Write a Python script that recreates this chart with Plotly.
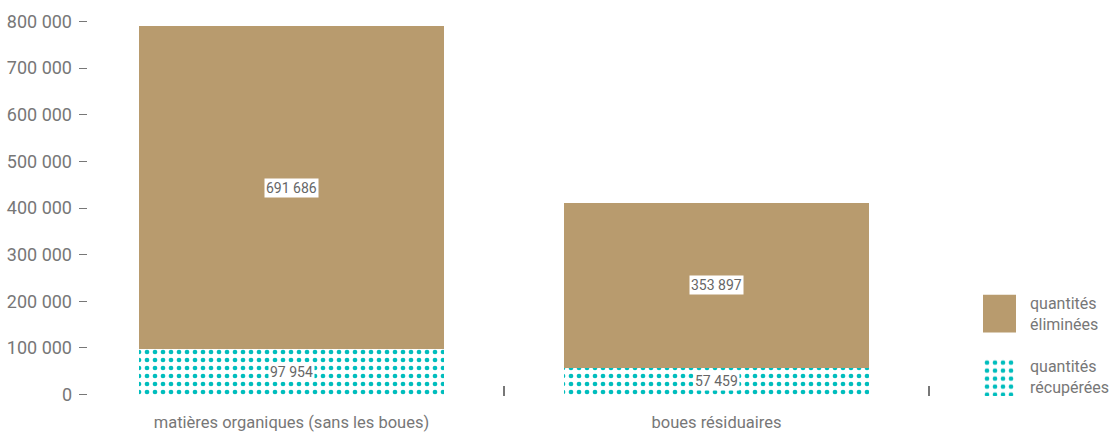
import plotly.graph_objects as go

categories = ["matières organiques (sans les boues)", "boues résiduaires"]
recuperees = [97954, 57459]
eliminees = [691686, 353897]
series_names = ["quantités<br>récupérées", "quantités<br>éliminées"]
y_ticks = [0, 100000, 200000, 300000, 400000, 500000, 600000, 700000, 800000]

BROWN = "#B89B6E"
TEAL = "#00BDBD"
GREY = "#777777"
FONT = "Roboto"

def fmt(v):
    return f"{v:,}".replace(",", " ")

xpos = list(range(len(categories)))
boundaries = [i + 0.5 for i in xpos]

PAT = dict(shape=".", fgcolor=TEAL, bgcolor="white", size=8, solidity=0.27,
           fgopacity=1, fillmode="replace")

fig = go.Figure()
fig.add_trace(go.Bar(
    x=xpos, y=recuperees, name=series_names[0], showlegend=False,
    marker=dict(color=TEAL, line=dict(width=0), pattern=PAT),
))
fig.add_trace(go.Bar(
    x=xpos, y=eliminees, name=series_names[1], showlegend=False,
    marker=dict(color=BROWN, line=dict(width=0)),
))

# value labels with white boxes
for c, r, e in zip(xpos, recuperees, eliminees):
    fig.add_annotation(x=c, y=r / 2, text=fmt(r), showarrow=False,
                       bgcolor="white", borderpad=1,
                       font=dict(family=FONT, size=14, color="#666666"))
    fig.add_annotation(x=c, y=r + e / 2, text=fmt(e), showarrow=False,
                       bgcolor="white", borderpad=1,
                       font=dict(family=FONT, size=14, color="#666666"))

# custom legend swatches (large squares)
fig.add_trace(go.Scatter(
    x=[0, 33, 33, 0, 0], y=[0, 0, 38, 38, 0], xaxis="x2", yaxis="y2",
    mode="lines", fill="toself", line=dict(width=0), fillcolor=TEAL,
    fillpattern=PAT, showlegend=False, hoverinfo="skip",
))
fig.add_trace(go.Scatter(
    x=[0, 33, 33, 0, 0], y=[64, 64, 102, 102, 64], xaxis="x2", yaxis="y2",
    mode="lines", fill="toself", line=dict(width=0), fillcolor=BROWN,
    showlegend=False, hoverinfo="skip",
))
PH = 378.3  # plot height px
fig.add_annotation(xref="paper", yref="paper", x=(1028 - 79) / 1033, y=(396.8 - 314.5) / PH,
                   xanchor="left", yanchor="middle", align="left", showarrow=False,
                   text=series_names[1], font=dict(family=FONT, size=16, color=GREY))
fig.add_annotation(xref="paper", yref="paper", x=(1028 - 79) / 1033, y=(396.8 - 377.5) / PH,
                   xanchor="left", yanchor="middle", align="left", showarrow=False,
                   text=series_names[0], font=dict(family=FONT, size=16, color=GREY))

fig.update_layout(
    width=1112, height=432,
    margin=dict(l=79, r=0, t=20, b=34),
    paper_bgcolor="white", plot_bgcolor="white",
    barmode="stack", bargap=0.282,
    separators=", ",
    showlegend=False,
    font=dict(family=FONT, color=GREY),
    xaxis=dict(domain=[0, 854.25 / 1033], range=[-0.5, 1.51], showgrid=False,
               showline=False, zeroline=False,
               tickvals=xpos, ticktext=categories, ticks="", ticklabelstandoff=14,
               tickfont=dict(family=FONT, size=16.5, color=GREY),
               minor=dict(tickvals=boundaries, ticks="inside", ticklen=10,
                          tickwidth=1.5, tickcolor=GREY, showgrid=False)),
    yaxis=dict(range=[-3000, 803000], tickvals=y_ticks, showgrid=False, showline=False,
               zeroline=False, ticks="inside", ticklen=8, tickwidth=1.2,
               tickcolor=GREY, tickformat=",d", ticklabelstandoff=6,
               tickfont=dict(family=FONT, size=18, color=GREY)),
    xaxis2=dict(domain=[(983 - 79) / 1033, (1016 - 79) / 1033], range=[0, 33],
                visible=False, anchor="y2", fixedrange=True),
    yaxis2=dict(domain=[0, 102 / PH], range=[0, 102],
                visible=False, anchor="x2", fixedrange=True),
)

fig.write_html("out.html")
